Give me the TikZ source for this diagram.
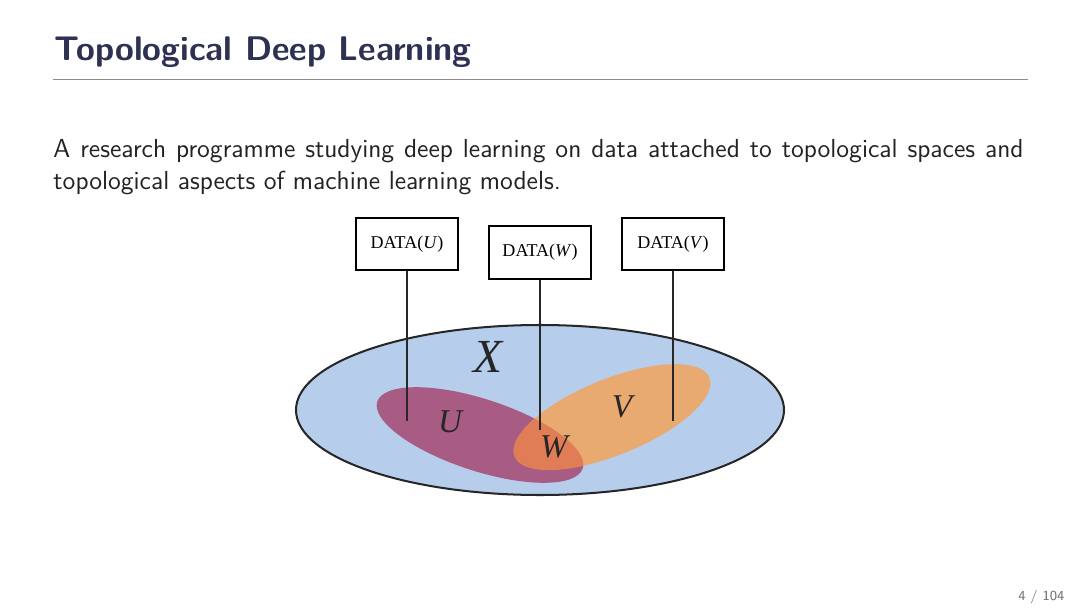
\documentclass[tikz,border=0pt]{standalone}
\usepackage{fontspec}
\newfontfamily\figfont{Liberation Serif}
\definecolor{titlecol}{RGB}{45,50,82}
\definecolor{bodycol}{RGB}{35,35,35}
\definecolor{rulecol}{RGB}{140,140,140}
\definecolor{pagecol}{RGB}{110,110,110}
\definecolor{xcol}{RGB}{182,205,236}
\definecolor{ucol}{RGB}{168,92,132}
\definecolor{vcol}{RGB}{232,170,112}
\definecolor{wcol}{RGB}{224,124,86}
\definecolor{linecol}{RGB}{40,40,40}
\tikzset{
  databox/.style={draw=black, line width=0.9pt, fill=white, minimum width=43pt, minimum height=22pt, inner sep=0pt, font=\figfont\fontsize{7.6}{9}\selectfont},
  stem/.style={draw=linecol, line width=1.2pt},
  setlabel/.style={font=\figfont\itshape\fontsize{14}{16}\selectfont, text=black!85, inner sep=0pt},
}
\begin{document}
\begin{tikzpicture}[x=0.4215pt, y=-0.4215pt]
\useasboundingbox[fill=white] (0,0) rectangle (1080,608);
% title
\node[anchor=base west, inner sep=0pt, text=titlecol, font=\sffamily\bfseries\fontsize{14.4}{17}\selectfont] (title) at (54,61) {Topological Deep Learning};
\coordinate (rl) at (53,79);
\coordinate (rr) at (1028,79);
\draw[rulecol, line width=0.4pt] (rl) -- (rr);
% body
\node[anchor=base west, inner sep=0pt, text=bodycol, text width=408.9pt, align=justify, font=\sffamily\fontsize{11}{13.9}\selectfont] (body) at (53,157) {A research programme studying deep learning on data attached to topological spaces and\linebreak topological aspects of machine learning models.};
% page number
\node[anchor=base east, inner sep=0pt, text=pagecol, font=\sffamily\fontsize{5.8}{6}\selectfont] (page) at (1065,600) {4 / 104};
% figure
\fill[xcol] (540,410) ellipse [x radius=244, y radius=85];
\fill[ucol, shift={(480,435)}, rotate=-18] (0,0) ellipse [x radius=108, y radius=36];
\fill[vcol, shift={(612,417)}, rotate=22] (0,0) ellipse [x radius=105, y radius=38];
\begin{scope}
  \clip[shift={(480,435)}, rotate=-18] (0,0) ellipse [x radius=108, y radius=36];
  \fill[wcol, shift={(612,417)}, rotate=22] (0,0) ellipse [x radius=105, y radius=38];
\end{scope}
\draw[black!85, line width=0.85pt] (540,410) ellipse [x radius=244, y radius=85];
\node[setlabel, font=\figfont\itshape\fontsize{20}{22}\selectfont] (X) at (488,357) {X};
\node[setlabel] (U) at (450,422) {U};
\node[setlabel] (V) at (622,407) {V};
\node[setlabel] (W) at (554,447) {W};
% boxes
\node[databox] (bu) at (407,244) {DATA(\textit{U})};
\node[databox] (bw) at (540,252.5) {DATA(\textit{W})};
\node[databox] (bv) at (673,244) {DATA(\textit{V})};
\coordinate (eu) at (407,421);
\coordinate (ew) at (540,430);
\coordinate (ev) at (673,421);
\draw[stem] (bu.south) -- (eu);
\draw[stem] (bw.south) -- (ew);
\draw[stem] (bv.south) -- (ev);
\end{tikzpicture}
\end{document}
